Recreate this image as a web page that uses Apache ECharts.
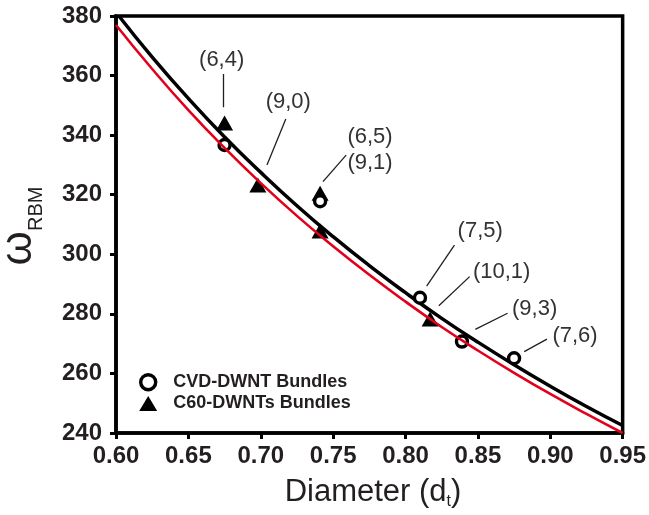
<!DOCTYPE html>
<html>
<head>
<meta charset="utf-8">
<script src="https://cdn.jsdelivr.net/npm/echarts@6/dist/echarts.min.js"></script>
<style>
html,body{margin:0;padding:0;background:#fff;}
#chart{width:649px;height:515px;}
</style>
</head>
<body>
<div id="chart"></div>
<script>
// ---- data ----
const cvdX = [0.675, 0.741, 0.810, 0.839, 0.875];
const cvdY = [336.7, 317.8, 285.4, 270.7, 265.1];
const c60X = [0.675, 0.698, 0.741, 0.741, 0.817];
const c60Y = [344.1, 323.3, 320.5, 307.8, 278.3];

const blackX = [0.602, 0.625, 0.65, 0.675, 0.70, 0.725, 0.75, 0.775, 0.80, 0.825, 0.85, 0.875, 0.90, 0.925, 0.95];
const blackY = [380.0, 366.2, 352.3, 339.4, 327.5, 316.3, 305.9, 296.2, 287.1, 278.5, 270.5, 262.9, 255.7, 248.9, 242.5];
const redX = [0.60, 0.625, 0.65, 0.675, 0.70, 0.725, 0.75, 0.775, 0.80, 0.825, 0.85, 0.875, 0.90, 0.925, 0.95];
const redY = [377.0, 362.2, 348.4, 335.7, 323.9, 312.9, 302.7, 293.1, 284.1, 275.6, 267.7, 260.2, 253.1, 246.4, 240.0];

const annText = ['(6,4)', '(9,0)', '(6,5)', '(9,1)', '(7,5)', '(10,1)', '(9,3)', '(7,6)'];
const annX = [0.673, 0.719, 0.7755, 0.7755, 0.8516, 0.8664, 0.8892, 0.9171];
const annY = [365.2, 351.2, 339.3, 330.6, 307.9, 294.2, 281.5, 272.5];
const leadFromX = [0.674, 0.7173, 0.759, 0.8338, 0.8443, 0.8705, 0.8977];
const leadFromY = [360.5, 345.4, 333.3, 303.1, 292.5, 280.2, 271.5];
const leadToX = [0.674, 0.7043, 0.743, 0.8146, 0.823, 0.8482, 0.882];
const leadToY = [349.4, 330.0, 324.4, 289.3, 282.7, 274.8, 267.3];

const xMin = 0.60, xMax = 0.95, xStep = 0.05;
const yMin = 240, yMax = 380, yStep = 20;
const seriesNames = ['CVD-DWNT Bundles', 'C60-DWNTs Bundles'];

// ---- build ----
const zip = (a, b) => a.map((v, i) => [v, b[i]]);
const TXT = '#231f20';
const FF = 'Liberation Sans, Arial, sans-serif';

const chart = echarts.init(document.getElementById('chart'), null, {renderer: 'canvas'});
chart.setOption({
  animation: false,
  backgroundColor: '#fff',
  grid: {left: 116, right: 22, top: 16, bottom: 82, show: true, borderColor: '#000', borderWidth: 3.5, backgroundColor: 'transparent'},
  xAxis: {
    type: 'value', min: xMin, max: xMax, interval: xStep,
    axisLine: {show: true, onZero: false, lineStyle: {color: '#000', width: 3.5}},
    axisTick: {show: true, inside: false, length: 6, lineStyle: {color: '#000', width: 3}},
    axisLabel: {margin: 11, color: TXT, fontFamily: FF, fontWeight: 'bold', fontSize: 24,
      formatter: v => v.toFixed(2)},
    splitLine: {show: false}
  },
  yAxis: {
    type: 'value', min: yMin, max: yMax, interval: yStep,
    axisLine: {show: true, onZero: false, lineStyle: {color: '#000', width: 3.5}},
    axisTick: {show: true, inside: false, length: 6, lineStyle: {color: '#000', width: 3}},
    axisLabel: {margin: 14, color: TXT, fontFamily: FF, fontWeight: 'bold', fontSize: 24},
    splitLine: {show: false}
  },
  legend: {
    orient: 'vertical', left: 134, top: 368, itemGap: 3, itemWidth: 18, itemHeight: 15,
    data: seriesNames,
    itemStyle: {borderWidth: 3.4},
    textStyle: {color: TXT, fontFamily: FF, fontWeight: 'bold', fontSize: 18, padding: [0, 0, 0, 11]}
  },
  graphic: [
    {type: 'text', x: 373, y: 492, silent: true,
     style: {text: '{a|Diameter (d}{b|t}{a|)}', align: 'center', verticalAlign: 'middle',
       rich: {a: {fontSize: 31, lineHeight: 36, fontFamily: FF, fill: TXT, color: TXT},
              b: {fontSize: 16, lineHeight: 14, verticalAlign: 'bottom', fontFamily: FF, fill: TXT, color: TXT}}}},
    {type: 'text', x: 19, y: 226, rotation: Math.PI / 2, silent: true,
     style: {text: '{w|ω}{s|RBM}', align: 'center', verticalAlign: 'middle',
       rich: {w: {fontSize: 44, lineHeight: 54, fontFamily: FF, fill: TXT, color: TXT},
              s: {fontSize: 20, lineHeight: 20, verticalAlign: 'bottom', fontFamily: FF, fill: TXT, color: TXT}}}}
  ],
  series: [
    {type: 'line', name: 'fitBlack', data: zip(blackX, blackY), smooth: true, showSymbol: false, symbol: 'none', z: 2,
     lineStyle: {color: '#000', width: 3.5}, silent: true},
    {type: 'scatter', name: seriesNames[1], data: zip(c60X, c60Y), symbol: 'triangle', symbolSize: [17, 15], z: 3,
     itemStyle: {color: '#000', opacity: 1}},
    {type: 'scatter', name: seriesNames[0], data: zip(cvdX, cvdY), symbol: 'circle', symbolSize: 11, z: 4,
     itemStyle: {color: '#fff', borderColor: '#000', borderWidth: 3.4, opacity: 1}},
    {type: 'line', name: 'fitRed', data: zip(redX, redY), smooth: true, showSymbol: false, symbol: 'none', z: 5,
     lineStyle: {color: '#e2001a', width: 2.6}, silent: true},
    {type: 'lines', coordinateSystem: 'cartesian2d', z: 6, silent: true,
     lineStyle: {color: TXT, width: 1.3, opacity: 1},
     data: leadFromX.map((x, i) => ({coords: [[x, leadFromY[i]], [leadToX[i], leadToY[i]]]}))},
    {type: 'scatter', name: 'ann', symbolSize: 0, z: 7, silent: true,
     data: annText.map((t, i) => ({name: t, value: [annX[i], annY[i]]})),
     itemStyle: {opacity: 1},
     label: {show: true, position: 'inside', formatter: '{b}', color: '#333333', opacity: 1,
       textBorderWidth: 0, textBorderColor: 'transparent', fontSize: 22, fontFamily: FF}}
  ]
});
</script>
</body>
</html>
